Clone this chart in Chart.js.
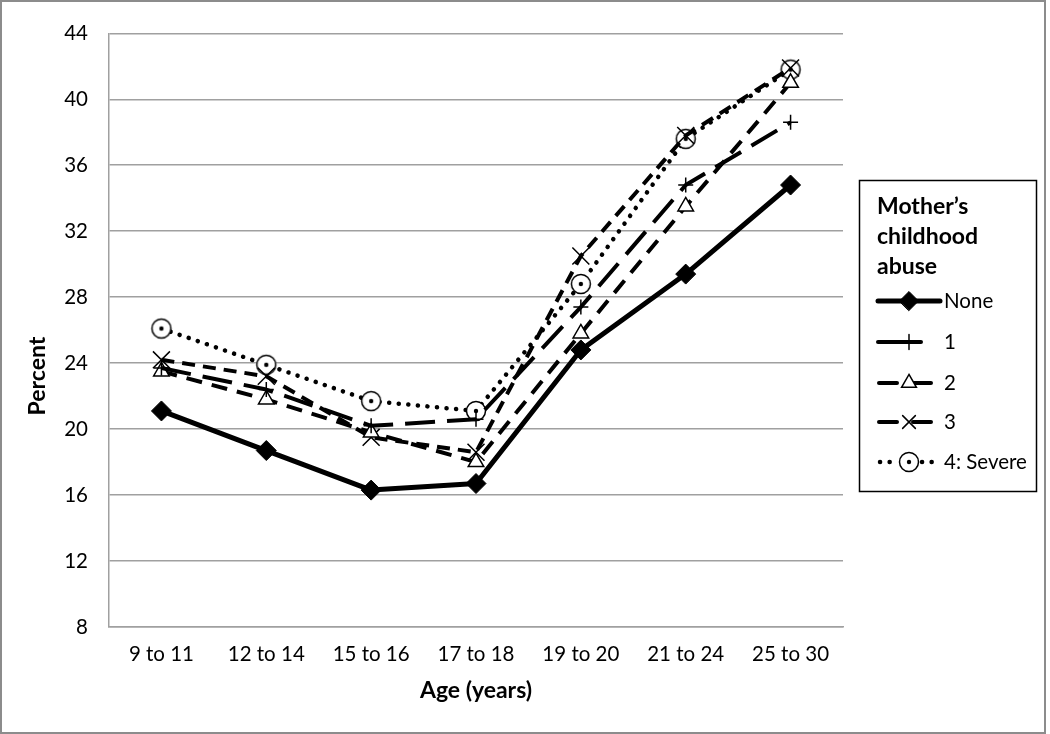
<!DOCTYPE html>
<html>
<head>
<meta charset="utf-8">
<script src="https://cdn.jsdelivr.net/npm/chart.js@4.4.1/dist/chart.umd.min.js"></script>
<style>
  html, body { margin: 0; padding: 0; background: #fff; }
  #wrap { width: 1050px; height: 734px; position: relative; }
</style>
</head>
<body>
<div id="wrap"><canvas id="c"></canvas></div>
<script>
// ---- Data ----
const categories = ['9 to 11', '12 to 14', '15 to 16', '17 to 18', '19 to 20', '21 to 24', '25 to 30'];
const seriesNames = ['None', '1', '2', '3', '4: Severe'];
const noneValues   = [21.1, 18.7, 16.3, 16.7, 24.8, 29.4, 34.8];
const oneValues    = [23.7, 22.4, 20.2, 20.6, 27.4, 34.8, 38.6];
const twoValues    = [23.5, 21.8, 19.8, 18.0, 25.8, 33.5, 41.0];
const threeValues  = [24.2, 23.2, 19.5, 18.6, 30.5, 37.8, 41.9];
const fourValues   = [26.1, 23.9, 21.7, 21.1, 28.8, 37.6, 41.8];
const yTicks = [8, 12, 16, 20, 24, 28, 32, 36, 40, 44];
const xTitle = 'Age (years)';
const yTitle = 'Percent';
const legendTitle = ['Mother\u2019s', 'childhood', 'abuse'];

const FONT = 'Lato, "Open Sans", "Liberation Sans", sans-serif';

// circle with centre dot marker
function makeCircleDot() {
  const c = document.createElement('canvas');
  c.width = 24; c.height = 24;
  const g = c.getContext('2d');
  g.beginPath(); g.arc(12, 12, 9.5, 0, Math.PI * 2);
  g.fillStyle = '#fff'; g.fill();
  g.lineWidth = 1.5; g.strokeStyle = '#000'; g.stroke();
  g.beginPath(); g.arc(12, 12, 2.2, 0, Math.PI * 2);
  g.fillStyle = '#000'; g.fill();
  return c;
}
const circleDot = makeCircleDot();

const datasets = [
  { label: seriesNames[0], data: noneValues, borderColor: '#000', borderWidth: 5,
    borderDash: [], pointStyle: 'rectRot', pointRadius: 10, pointBackgroundColor: '#000',
    pointBorderColor: '#000', pointBorderWidth: 1 },
  { label: seriesNames[1], data: oneValues, borderColor: '#000', borderWidth: 4,
    borderDash: [30, 12], pointStyle: 'cross', pointRadius: 7.5, pointBackgroundColor: '#000',
    pointBorderColor: '#000', pointBorderWidth: 1.5 },
  { label: seriesNames[2], data: twoValues, borderColor: '#000', borderWidth: 4,
    borderDash: [16, 10], pointStyle: 'triangle', pointRadius: 9, pointBackgroundColor: '#fff',
    pointBorderColor: '#000', pointBorderWidth: 1.5 },
  { label: seriesNames[3], data: threeValues, borderColor: '#000', borderWidth: 4,
    borderDash: [13, 8], pointStyle: 'crossRot', pointRadius: 12, pointBackgroundColor: '#000',
    pointBorderColor: '#000', pointBorderWidth: 1.5 },
  { label: seriesNames[4], data: fourValues, borderColor: '#000', borderWidth: 4.5,
    borderDash: [0.1, 9.5], borderCapStyle: 'round', pointStyle: circleDot, pointRadius: 10,
    pointBackgroundColor: '#fff', pointBorderColor: '#000', pointBorderWidth: 1.5 }
].map(d => Object.assign({ fill: false, tension: 0, borderJoinStyle: 'round' }, d));

// legend sample segments (line pieces drawn either side of the marker)
const legendSegments = [
  [[878, 940]],
  [[878, 921]],
  [[879, 897], [911, 931]],
  [[879, 897], [913, 931]],
  [[880, 896], [922, 936]]
];
const legendMarkerScale = [0.95, 1, 0.95, 0.75, 1];

const decorPlugin = {
  id: 'decor',
  afterDraw(chart) {
    const ctx = chart.ctx;
    const ca = chart.chartArea;
    ctx.save();
    // outer frame
    ctx.strokeStyle = '#8c8c8c'; ctx.lineWidth = 2;
    ctx.strokeRect(1, 1, 1044, 732);
    // axis titles
    ctx.fillStyle = '#000';
    ctx.font = 'bold 23px ' + FONT;
    ctx.textAlign = 'center'; ctx.textBaseline = 'middle';
    ctx.fillText(xTitle, (ca.left + ca.right) / 2, 691);
    ctx.save();
    ctx.translate(38, 376); ctx.rotate(-Math.PI / 2);
    ctx.fillText(yTitle, 0, 0);
    ctx.restore();

    // legend box
    ctx.strokeStyle = '#000'; ctx.lineWidth = 1.5;
    ctx.strokeRect(859.5, 180.5, 177, 311);
    ctx.textAlign = 'left'; ctx.textBaseline = 'alphabetic';
    ctx.font = 'bold 23px ' + FONT;
    const titleY = [214, 244, 274];
    legendTitle.forEach((t, i) => ctx.fillText(t, 877, titleY[i]));

    const itemY = [301, 342, 383, 422, 462];
    ctx.font = '20.5px ' + FONT;
    datasets.forEach((ds, i) => {
      const y = itemY[i];
      ctx.save();
      ctx.strokeStyle = ds.borderColor;
      ctx.lineWidth = ds.borderWidth;
      ctx.lineCap = ds.borderCapStyle || 'round';
      if (i === 4) ctx.setLineDash(ds.borderDash);
      legendSegments[i].forEach(([a, b]) => {
        ctx.beginPath(); ctx.moveTo(a, y); ctx.lineTo(b, y); ctx.stroke();
      });
      ctx.setLineDash([]);
      ctx.fillStyle = ds.pointBackgroundColor;
      ctx.strokeStyle = ds.pointBorderColor;
      ctx.lineWidth = ds.pointBorderWidth;
      Chart.helpers.drawPoint(ctx, { pointStyle: ds.pointStyle, radius: ds.pointRadius * legendMarkerScale[i],
        rotation: 0, borderWidth: ds.pointBorderWidth }, 909, y);
      ctx.restore();
      ctx.fillStyle = '#000';
      ctx.textBaseline = 'middle';
      ctx.fillText(ds.label, 944, y);
    });
    ctx.restore();
  }
};

new Chart(document.getElementById('c'), {
  type: 'line',
  data: { labels: categories, datasets: datasets },
  options: {
    responsive: true,
    maintainAspectRatio: false,
    animation: false,
    events: [],
    layout: { padding: { top: 25, right: 207, bottom: 0, left: 0 } },
    plugins: { legend: { display: false }, tooltip: { enabled: false }, title: { display: false } },
    scales: {
      x: {
        type: 'category',
        offset: true,
        grid: { display: false, drawTicks: false },
        border: { display: true, color: '#a0a0a0', width: 1.5 },
        ticks: { color: '#000', font: { family: FONT, size: 20.5 }, padding: 15, maxRotation: 0, autoSkip: false },
        afterFit(s) { s.height = 107; }
      },
      y: {
        min: 8, max: 44,
        afterBuildTicks(s) { s.ticks = yTicks.map(v => ({ value: v })); },
        grid: { color: '#a0a0a0', lineWidth: 1.5, drawTicks: false },
        border: { display: true, color: '#a0a0a0', width: 1.5 },
        ticks: { color: '#000', font: { family: FONT, size: 20.5 }, padding: 21 },
        afterFit(s) { s.width = 109; }
      }
    }
  },
  plugins: [decorPlugin]
});
</script>
</body>
</html>
